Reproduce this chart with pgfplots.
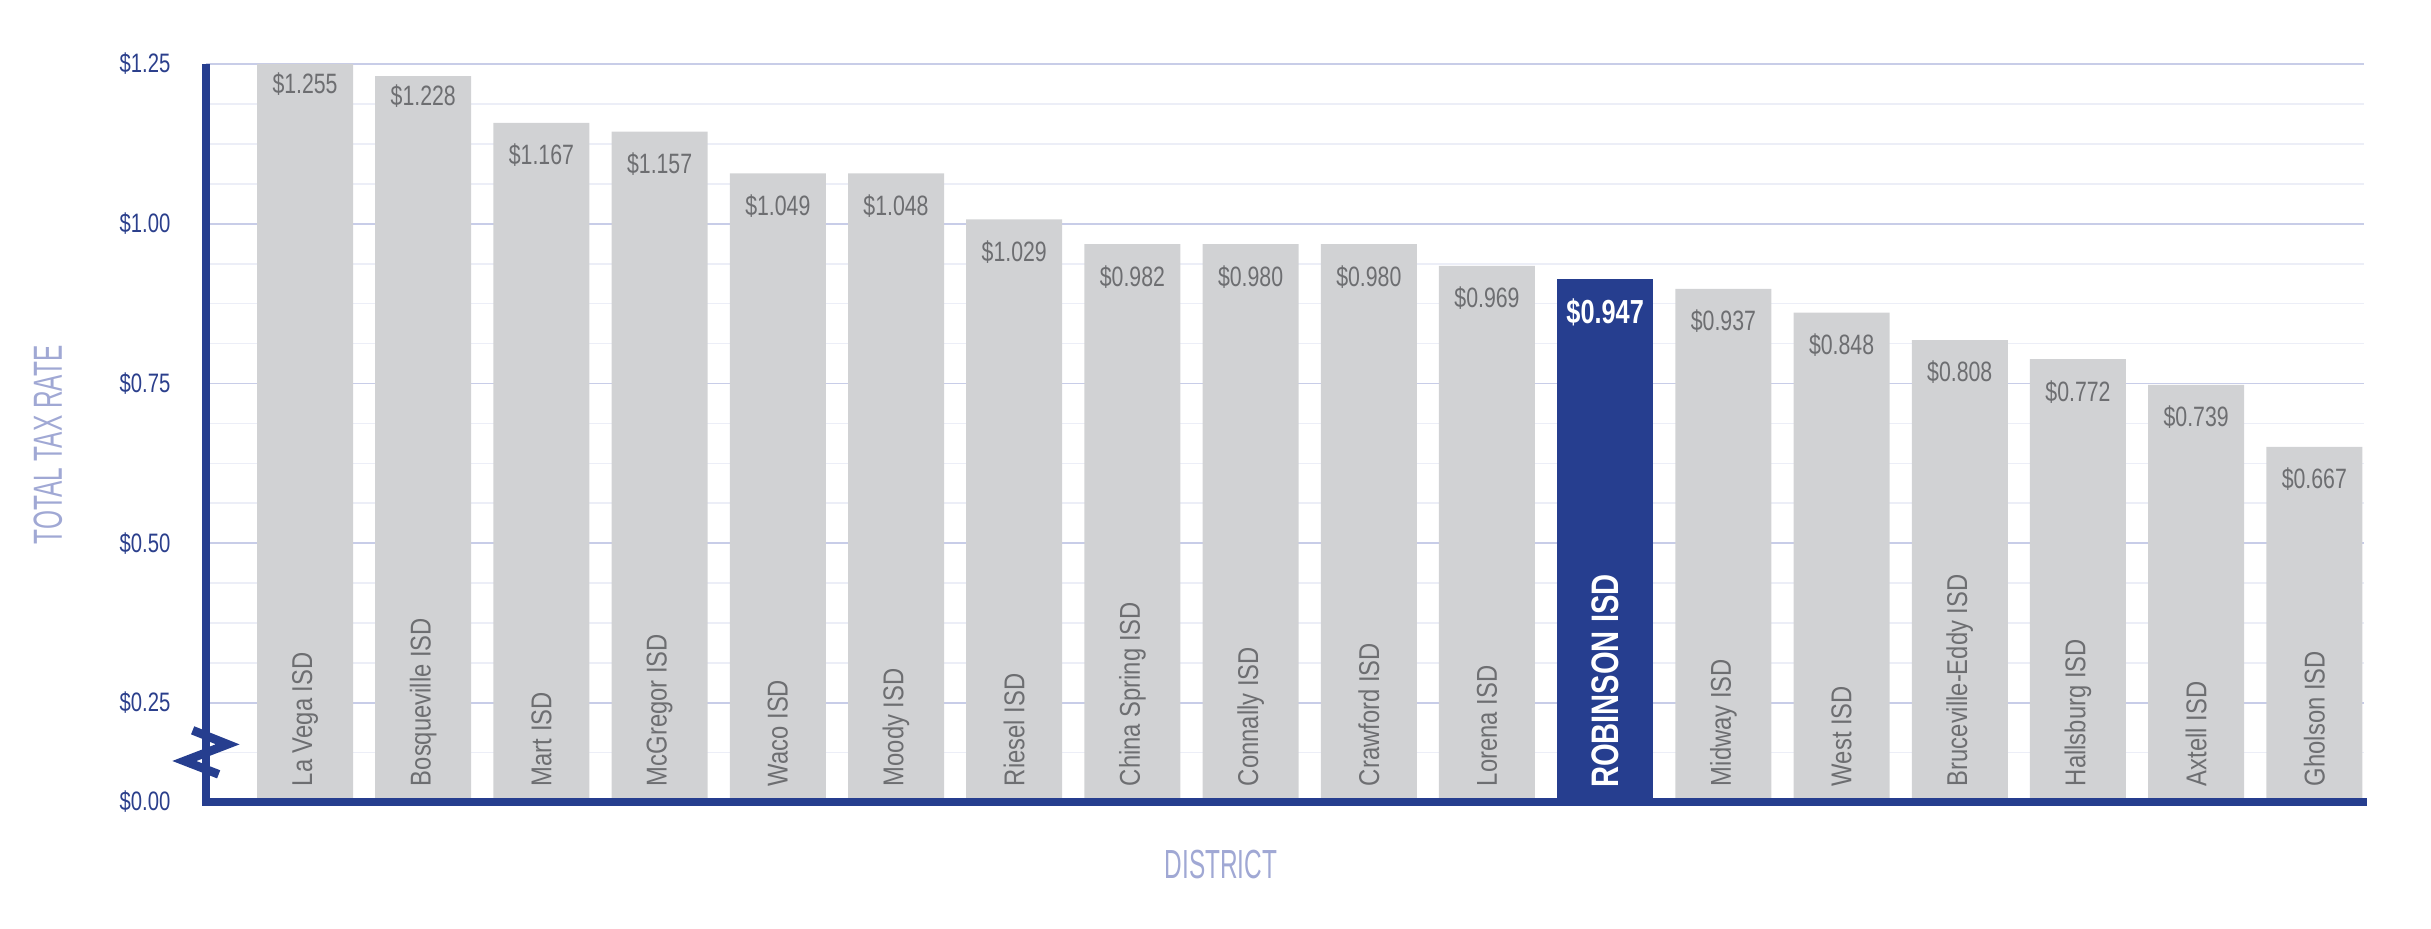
\documentclass[border=0pt]{standalone}
\usepackage{pgfplots}
\pgfplotsset{compat=1.18}
\usepackage{pgfplotstable}
\usepackage{fontspec}
\setmainfont{Liberation Sans}
\newfontfamily\condf{Liberation Sans}[FakeStretch=0.76]
\newfontfamily\namef{Liberation Sans}[FakeStretch=0.83]
\newfontfamily\thinf{Liberation Sans}[FakeStretch=0.6]
\definecolor{axblue}{RGB}{38,62,143}
\definecolor{barg}{RGB}{209,210,212}
\definecolor{labg}{RGB}{109,110,113}
\definecolor{gridmaj}{RGB}{200,205,232}
\definecolor{gridmin}{RGB}{236,238,247}
\definecolor{tickblue}{RGB}{43,63,140}
\definecolor{titleblue}{RGB}{160,168,212}

\pgfplotstableread[col sep=comma]{
x,y,lab,off,ny,name
0,1.250,1.255,6,0.119,La Vega ISD
1,1.231,1.228,6,0.119,Bosqueville ISD
2,1.158,1.167,9.75,0.119,Mart ISD
3,1.144,1.157,9.75,0.119,McGregor ISD
4,1.079,1.049,9.75,0.119,Waco ISD
5,1.079,1.048,9.75,0.119,Moody ISD
6,1.007,1.029,9.75,0.119,Riesel ISD
7,0.968,0.982,9.75,0.119,China Spring ISD
8,0.968,0.980,9.75,0.119,Connally ISD
9,0.968,0.980,9.75,0.119,Crawford ISD
10,0.934,0.969,9.75,0.119,Lorena ISD
12,0.898,0.937,9.75,0.119,Midway ISD
13,0.861,0.848,9.75,0.119,West ISD
14,0.818,0.808,9.75,0.119,Bruceville-Eddy ISD
15,0.788,0.772,9.75,0.119,Hallsburg ISD
16,0.748,0.739,9.75,0.119,Axtell ISD
17,0.651,0.667,9.75,0.119,Gholson ISD
}\bars

\pgfplotstableread[col sep=comma]{
x,y,lab,off,ny,name
11,0.914,0.947,10.2,0.116,ROBINSON ISD
}\robinson

\begin{document}
\begin{tikzpicture}
\begin{axis}[
  name=ax,
  width=647.4pt, height=221.4pt, scale only axis,
  xmin=-0.838, xmax=17.42, ymin=0.0951, ymax=1.25,
  axis line style={draw=none},
  xtick=\empty,
  ytick={0.0951,0.25,0.5,0.75,1,1.25},
  yticklabels={\$0.00,\$0.25,\$0.50,\$0.75,\$1.00,\$1.25},
  minor ytick={0.1726,0.3125,0.375,0.4375,0.5625,0.625,0.6875,0.8125,0.875,0.9375,1.0625,1.125,1.1875},
  major tick length=0pt, minor tick length=0pt,
  ymajorgrids, yminorgrids,
  major grid style={draw=gridmaj, line width=0.5pt},
  minor grid style={draw=gridmin, line width=0.5pt},
  yticklabel style={font=\condf\fontsize{8}{9}\selectfont, text=tickblue, anchor=east, inner sep=0pt, xshift=-10.5pt},
  /pgf/number format/assume math mode=true,
]
\addplot[ybar, bar width=28.8pt, bar shift=0pt, fill=barg, draw=none,
  point meta=explicit symbolic,
  visualization depends on={\thisrow{off}\as\myoff},
  nodes near coords={\$\pgfplotspointmeta},
  every node near coord/.append style={font=\condf\fontsize{8.4}{9}\selectfont, text=labg, anchor=center, inner sep=0pt, yshift=-\myoff pt}]
  table[x=x, y=y, meta=lab]{\bars};
\addplot[ybar, bar width=28.8pt, bar shift=0pt, fill=axblue, draw=none,
  point meta=explicit symbolic,
  visualization depends on={\thisrow{off}\as\myoff},
  nodes near coords={\$\pgfplotspointmeta},
  every node near coord/.append style={font=\condf\bfseries\fontsize{10}{11}\selectfont, text=white, anchor=center, inner sep=0pt, yshift=-\myoff pt}]
  table[x=x, y=y, meta=lab]{\robinson};
\addplot[ybar, bar width=28.8pt, bar shift=0pt, fill=none, draw=none,
  point meta=explicit symbolic,
  nodes near coords,
  every node near coord/.append style={font=\namef\fontsize{8.6}{9}\selectfont, text=labg, rotate=90, anchor=west, inner sep=0pt}]
  table[x=x, y=ny, meta=name]{\bars};
\addplot[ybar, bar width=28.8pt, bar shift=0pt, fill=none, draw=none,
  point meta=explicit symbolic,
  nodes near coords,
  every node near coord/.append style={font=\condf\bfseries\fontsize{11.5}{12}\selectfont, text=white, rotate=90, anchor=west, inner sep=0pt}]
  table[x=x, y=ny, meta=name]{\robinson};
\end{axis}
% axis lines
\draw[axblue, line width=2.4pt, line join=miter] (ax.north west) -- (ax.south west) -- ([xshift=1pt]ax.south east);
% axis break mark
\draw[axblue, line width=2.6pt, line join=miter, miter limit=10]
  ([xshift=-4pt, yshift=21.5pt]ax.south west) -- ([xshift=6.5pt, yshift=17.3pt]ax.south west)
  -- ([xshift=-6.5pt, yshift=12.3pt]ax.south west) -- ([xshift=3.8pt, yshift=8.3pt]ax.south west);
% axis titles
\node[font=\thinf\fontsize{12.2}{13}\selectfont, text=titleblue, anchor=base, inner sep=0pt]
  at ([xshift=304.5pt, yshift=-23.1pt]ax.south west) {DISTRICT};
\node[font=\thinf\fontsize{12.2}{13}\selectfont, text=titleblue, anchor=base, inner sep=0pt, rotate=90]
  at ([xshift=-43.2pt, yshift=107.1pt]ax.south west) {TOTAL TAX RATE};
\pgfresetboundingbox
\path[use as bounding box] ([xshift=-61.8pt, yshift=-38.1pt]ax.south west) rectangle ++(729.3pt, 278.7pt);
\end{tikzpicture}
\end{document}
